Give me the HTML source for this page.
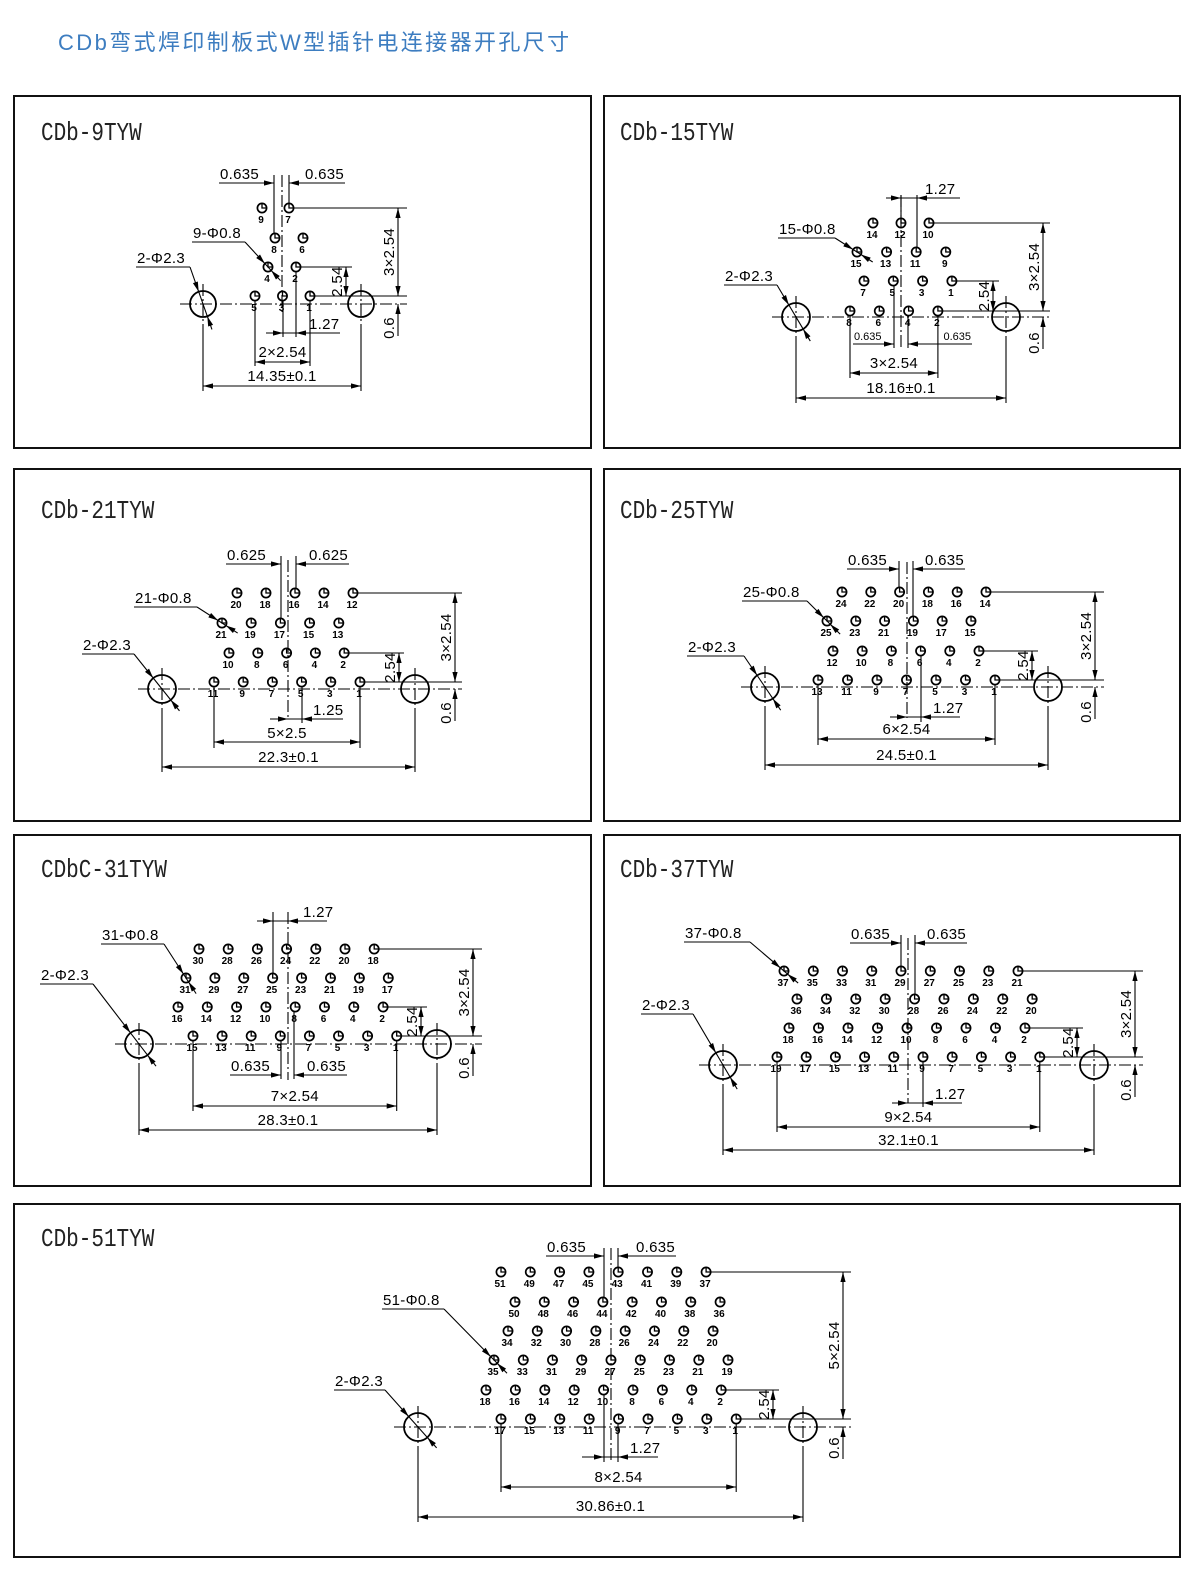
<!DOCTYPE html>
<html><head><meta charset="utf-8">
<style>
body{margin:0;background:#fff;width:1200px;height:1586px;overflow:hidden}
svg{display:block}
line,path{stroke:#000;stroke-width:1.1;fill:none}
.dd{stroke-dasharray:12 3 2 3}
.pin{fill:#fff;stroke:#000;stroke-width:1.7}
.hole{fill:none;stroke:#000;stroke-width:1.8}
.box{fill:none;stroke:#111;stroke-width:2}
polygon{fill:#000;stroke:none}
text{font-family:"Liberation Sans",sans-serif;fill:#000}
.ttl{font-family:"Liberation Mono",monospace;font-size:21px;fill:#222}
.dim{font-size:15px;letter-spacing:0.3px}
.dims{font-size:11px}
.pn{font-size:10px;font-weight:bold}
</style></head><body>
<svg id="s" width="1200" height="1586" xmlns="http://www.w3.org/2000/svg">
<text x="58" y="50" style="font-family:'Liberation Sans','Noto Sans CJK SC',sans-serif;font-size:22px;fill:#3d7dc0;letter-spacing:2.4px">CDb弯式焊印制板式W型插针电连接器开孔尺寸</text>
<rect class="box" x="14" y="96" width="577" height="352"/>
<rect class="box" x="604" y="96" width="576" height="352"/>
<rect class="box" x="14" y="469" width="577" height="352"/>
<rect class="box" x="604" y="469" width="576" height="352"/>
<rect class="box" x="14" y="835" width="577" height="351"/>
<rect class="box" x="604" y="835" width="576" height="351"/>
<rect class="box" x="14" y="1204" width="1166" height="353"/>
<g transform="translate(41,140) scale(1,1.22)"><text class="ttl" x="0" y="0">CDb-9TYW</text></g>
<g transform="translate(620,140) scale(1,1.22)"><text class="ttl" x="0" y="0">CDb-15TYW</text></g>
<g transform="translate(41,518) scale(1,1.22)"><text class="ttl" x="0" y="0">CDb-21TYW</text></g>
<g transform="translate(620,518) scale(1,1.22)"><text class="ttl" x="0" y="0">CDb-25TYW</text></g>
<g transform="translate(41,877) scale(1,1.22)"><text class="ttl" x="0" y="0">CDbC-31TYW</text></g>
<g transform="translate(620,877) scale(1,1.22)"><text class="ttl" x="0" y="0">CDb-37TYW</text></g>
<g transform="translate(41,1246) scale(1,1.22)"><text class="ttl" x="0" y="0">CDb-51TYW</text></g>
<g id="g"></g>
</svg>
<script>
const S=[];
const R=0,LF=Math.PI,U=-Math.PI/2,D=Math.PI/2;
function L(x1,y1,x2,y2,d){S.push(`<line x1="${x1}" y1="${y1}" x2="${x2}" y2="${y2}"${d?' class="dd"':''}/>`);}
function A(x,y,ang){const l=10,w=2.6,c=Math.cos(ang),s=Math.sin(ang);const bx=x-c*l,by=y-s*l;
 S.push(`<polygon points="${x},${y} ${bx-s*w},${by+c*w} ${bx+s*w},${by-c*w}"/>`);}
function T(x,y,s,cls,anc){S.push(`<text class="${cls}" x="${x}" y="${y}" text-anchor="${anc}">${s}</text>`);}
function Tr(x,y,s){S.push(`<text class="dim" text-anchor="middle" transform="translate(${x},${y}) rotate(-90)">${s}</text>`);}
function pin(x,y){S.push(`<circle class="pin" cx="${x}" cy="${y}" r="4.6"/><path d="M${x} ${y-4.6}V${y}H${x+4.6}" style="stroke-width:1.3"/>`);}
function seq(a,b){const r=[];for(let i=a;i>=b;i-=2)r.push(i);return r;}
function leader(tx,ty,t,len,px,py,pr){
 T(tx,ty,t,'dim','start');const ux=tx+len,uy=ty+4;L(tx-1,uy,ux,uy);
 const dx=px-ux,dy=py-uy,d=Math.hypot(dx,dy),c=dx/d,s=dy/d;
 L(ux,uy,px+c*(pr+14),py+s*(pr+14));
 A(px-c*pr,py-s*pr,Math.atan2(dy,dx));A(px+c*pr,py+s*pr,Math.atan2(-dy,-dx));}
function pair(xa,xb,y,ya1,ya2,yb1,yb2,lx,rx,lab,cls){
 L(xa,ya1,xa,ya2);L(xb,yb1,xb,yb2);L(lx,y,xa,y);L(xb,y,rx,y);A(xa,y,R);A(xb,y,LF);
 T(lx+1,y-4,lab,cls,'start');T(rx-1,y-4,lab,cls,'end');}
function single(xa,xb,y,ya1,ya2,yb1,yb2,xs,xe,lab,lx){
 if(ya1!==ya2)L(xa,ya1,xa,ya2);L(xb,yb1,xb,yb2);L(xs,y,xe,y);A(xa,y,R);A(xb,y,LF);T(lx,y-4,lab,'dim','start');}
function C(o){
 o.rows.forEach(r=>{r[3].forEach((lb,i)=>{const x=+(r[1]+i*r[2]).toFixed(1),y=r[0];pin(x,y);T(x-1,y+15,lb,'pn','middle');});});
 [o.hl,o.hr].forEach(x=>{S.push(`<circle class="hole" cx="${x}" cy="${o.cy}" r="${o.r}"/>`);
  L(x,o.cy-o.r-7,x,o.cy+o.r+7,1);L(x,o.cy+o.r+7,x,o.ov.y+5);});
 L(o.hl-o.r-10,o.cy,o.rd.xe1,o.cy,1);
 L(o.hl,o.ov.y,o.hr,o.ov.y);A(o.hl,o.ov.y,LF);A(o.hr,o.ov.y,R);T((o.hl+o.hr)/2,o.ov.ty,o.ov.lab,'dim','middle');
 const b=o.rows[0],by=b[0],bx0=b[1],bx1=b[1]+(b[3].length-1)*b[2];
 L(bx0,by+5,bx0,o.pd.ext);L(bx1,by+5,bx1,o.pd.ext);L(bx0,o.pd.y,bx1,o.pd.y);A(bx0,o.pd.y,LF);A(bx1,o.pd.y,R);
 T((bx0+bx1)/2,o.pd.ty,o.pd.lab,'dim','middle');
 const t=o.rows[o.rows.length-1],tx=t[1]+(t[3].length-1)*t[2],ty=t[0];
 const s=o.rows[1],sx=s[1]+(s[3].length-1)*s[2],sy=s[0];
 const rd=o.rd;
 L(tx+5,ty,rd.xe1,ty);L(sx+5,sy,rd.xe2,sy);L(bx1+5,by,rd.xe1,by);
 L(rd.x1,ty,rd.x1,by);A(rd.x1,ty,U);A(rd.x1,by,D);
 L(rd.x2,sy,rd.x2,by);A(rd.x2,sy,U);A(rd.x2,by,D);
 L(rd.x1,o.cy,rd.x1,o.cy+32);A(rd.x1,o.cy,U);
 Tr(rd.x1-4,(ty+by)/2,rd.lab);Tr(rd.x2-4,(sy+by)/2,'2.54');Tr(rd.x1-4,rd.six,'0.6');
 const p=o.pl;leader(p[0],p[1],p[2],p[3],p[4],p[5],4.6);
 const h=o.hlead;leader(h[0],h[1],'2-Φ2.3',h[2],o.hl,o.cy,o.r);
}
// P1
C({rows:[[296,255,27.5,[5,3,1]],[267,268,28,[4,2]],[238,275,28,[8,6]],[208,262,27,[9,7]]],hl:203,hr:361,cy:304,r:13,
 ov:{y:386,lab:'14.35±0.1',ty:381},pd:{y:362,ext:366,lab:'2×2.54',ty:357},
 rd:{x1:398,xe1:407,x2:346,xe2:352,lab:'3×2.54',six:328},pl:[193,238,'9-Φ0.8',52,268,267],hlead:[137,263,53]});
L(282,175,282,313,1);
pair(274,289,183,175,233,175,203,219,345,'0.635','dim');
single(283,296,333,301,337,272,337,266,340,'1.27',309);
// P2
C({rows:[[311,850,29.3,[8,6,4,2]],[281,864,29.3,[7,5,3,1]],[252,857,29.6,[15,13,11,9]],[223,873,28,[14,12,10]]],hl:796,hr:1006,cy:317,r:14,
 ov:{y:398,lab:'18.16±0.1',ty:393},pd:{y:373,ext:378,lab:'3×2.54',ty:368},
 rd:{x1:1043,xe1:1050,x2:993,xe2:999,lab:'3×2.54',six:343},pl:[779,234,'15-Φ0.8',56,857,252],hlead:[725,281,52]});
L(901,195,901,347,1);
single(901,917,198,195,218,195,247,886,960,'1.27',925);
pair(894,908,344,286,348,316,348,853,972,'0.635','dims');
// P3
C({rows:[[682,214,29.2,[11,9,7,5,3,1]],[653,229,28.8,[10,8,6,4,2]],[623,222,29.2,[21,19,17,15,13]],[593,237,29,[20,18,16,14,12]]],hl:162,hr:415,cy:689,r:14,
 ov:{y:767,lab:'22.3±0.1',ty:762},pd:{y:742,ext:748,lab:'5×2.5',ty:738},
 rd:{x1:455,xe1:462,x2:399,xe2:404,lab:'3×2.54',six:713},pl:[135,603,'21-Φ0.8',62,222,623],hlead:[83,650,51]});
L(288,560,288,720,1);
pair(281,296,564,556,618,556,588,226,349,'0.625','dim');
single(288,302,719,719,719,687,723,270,343,'1.25',313);
// P4
C({rows:[[680,818,29.5,[13,11,9,7,5,3,1]],[651,833,29.2,[12,10,8,6,4,2]],[621,827,28.8,[25,23,21,19,17,15]],[592,842,28.8,[24,22,20,18,16,14]]],hl:765,hr:1048,cy:687,r:14,
 ov:{y:765,lab:'24.5±0.1',ty:760},pd:{y:739,ext:745,lab:'6×2.54',ty:734},
 rd:{x1:1095,xe1:1104,x2:1032,xe2:1038,lab:'3×2.54',six:712},pl:[743,597,'25-Φ0.8',64,827,621],hlead:[688,652,56]});
L(907,562,907,718,1);
pair(899,913,569,561,587,561,616,847,965,'0.635','dim');
single(907,921,717,717,717,656,722,890,960,'1.27',933);
// P5
C({rows:[[1036,193,29.1,seq(15,1)],[1007,178,29.3,seq(16,2)],[978,186,28.9,seq(31,17)],[949,199,29.2,seq(30,18)]],hl:139,hr:437,cy:1044,r:14,
 ov:{y:1130,lab:'28.3±0.1',ty:1125},pd:{y:1106,ext:1111,lab:'7×2.54',ty:1101},
 rd:{x1:473,xe1:482,x2:421,xe2:427,lab:'3×2.54',six:1068},pl:[102,940,'31-Φ0.8',62,186,978],hlead:[41,980,52]});
L(288,912,288,1080,1);
single(273,288,921,912,973,921,921,257,327,'1.27',303);
pair(281,294,1075,1041,1079,1012,1079,230,347,'0.635','dim');
// P6
C({rows:[[1057,777,29.2,seq(19,1)],[1028,789,29.5,seq(18,2)],[999,797,29.4,seq(36,20)],[971,784,29.25,seq(37,21)]],hl:723,hr:1094,cy:1065,r:14,
 ov:{y:1150,lab:'32.1±0.1',ty:1145},pd:{y:1127,ext:1132,lab:'9×2.54',ty:1122},
 rd:{x1:1135,xe1:1143,x2:1077,xe2:1083,lab:'3×2.54',six:1090},pl:[685,938,'37-Φ0.8',65,784,971],hlead:[642,1010,51]});
L(908,938,908,1103,1);
pair(901,915,943,935,966,935,994,850,967,'0.635','dim');
single(908,923,1103,1103,1103,1062,1107,892,962,'1.27',935);
// P7
C({rows:[[1419,501,29.4,seq(17,1)],[1390,486,29.4,seq(18,2)],[1360,494,29.25,seq(35,19)],[1331,508,29.3,seq(34,20)],[1302,515,29.3,seq(50,36)],[1272,501,29.3,seq(51,37)]],hl:418,hr:803,cy:1427,r:14,
 ov:{y:1517,lab:'30.86±0.1',ty:1511},pd:{y:1487,ext:1492,lab:'8×2.54',ty:1482},
 rd:{x1:843,xe1:851,x2:773,xe2:779,lab:'5×2.54',six:1448},pl:[383,1305,'51-Φ0.8',61,494,1360],hlead:[335,1386,50]});
L(611,1248,611,1460,1);
pair(604,618,1256,1248,1297,1248,1267,546,676,'0.635','dim');
single(604,618,1457,1395,1462,1424,1462,582,658,'1.27',630);
document.getElementById('g').innerHTML=S.join('');
</script>
</body></html>
